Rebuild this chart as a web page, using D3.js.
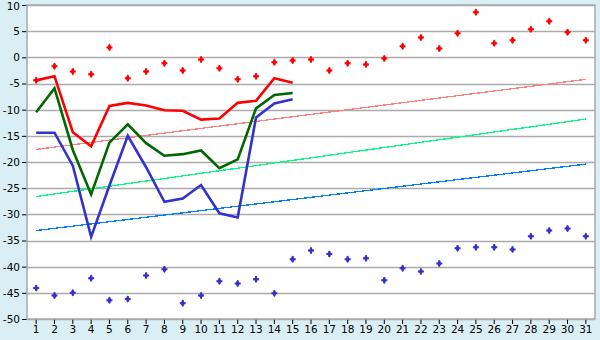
<!DOCTYPE html>
<html>
<head>
<meta charset="utf-8">
<script src="https://cdn.jsdelivr.net/npm/d3@7"></script>
<style>
    body { margin: 0; background: #daeef5; }
    svg { display: block; }
    .tick text { font-family: "DejaVu Sans", sans-serif; font-size: 10.5px; fill: #000; }
</style>
</head>
<body>
<svg id="chart" width="600" height="340"></svg>
<script>
// categories (days)
const days = d3.range(1, 32);
const yTicks = [-50, -45, -40, -35, -30, -25, -20, -15, -10, -5, 0, 5, 10];

// scatter series
const redDots = [-4.4, -1.7, -2.7, -3.25, 1.9, -4.0, -2.7, -1.15, -2.5, -0.4,
    -2.1, -4.2, -3.6, -0.95, -0.6, -0.4, -2.5, -1.15, -1.35, -0.2,
    2.1, 3.8, 1.7, 4.6, 8.6, 2.7, 3.25, 5.35, 6.9, 4.8, 3.25];
const blueDots = [-44.1, -45.5, -45.0, -42.2, -46.4, -46.2, -41.7, -40.5, -47.0, -45.5,
    -42.8, -43.2, -42.4, -45.1, -38.6, -36.9, -37.6, -38.6, -38.4, -42.6,
    -40.3, -40.9, -39.4, -36.5, -36.3, -36.3, -36.7, -34.2, -33.1, -32.7, -34.2];

// line series (days 1..15)
const redLine = [-4.4, -3.6, -14.3, -17.0, -9.3, -8.7, -9.2, -10.1, -10.2, -11.9, -11.7, -8.7, -8.3, -4.0, -4.85];
const greenLine = [-10.5, -5.9, -17.7, -26.2, -16.3, -12.8, -16.4, -18.8, -18.5, -17.8, -21.2, -19.5, -9.75, -7.2, -6.8];
const blueLine = [-14.4, -14.4, -20.7, -34.3, -24.5, -15.0, -21.0, -27.6, -27.0, -24.4, -29.8, -30.6, -11.5, -8.8, -8.0];

// trend lines: value at day 1 and day 31
const trendDays = [1, 31];
const redTrend = [-17.6, -4.2];
const greenTrend = [-26.6, -11.8];
const blueTrend = [-33.1, -20.4];

const svg = d3.select('#chart');
const svgWidth = +svg.attr('width');
const svgHeight = +svg.attr('height');
const margin = {top: 5, right: 5, bottom: 21, left: 27};
const innerWidth = svgWidth - margin.left - margin.right;
const innerHeight = svgHeight - margin.top - margin.bottom;

const xScale = d3.scaleBand()
    .domain(days)
    .range([0, innerWidth])
    .padding(0);
const xPos = d => xScale(d) + xScale.bandwidth() / 2;

const yScale = d3.scaleLinear()
    .domain([-50, 10])
    .range([innerHeight, 0]);

const g = svg.append('g')
    .attr('transform', `translate(${margin.left}, ${margin.top})`);

// plot background
g.append('rect')
    .attr('width', innerWidth)
    .attr('height', innerHeight)
    .attr('fill', '#fff');

// grid lines
g.append('g')
    .selectAll('line')
    .data(yTicks)
    .enter()
    .append('line')
    .attr('x1', 0)
    .attr('x2', innerWidth)
    .attr('y1', d => Math.round(yScale(d)) + 0.5)
    .attr('y2', d => Math.round(yScale(d)) + 0.5)
    .attr('stroke', '#aaa')
    .attr('stroke-width', 1.5);

// axes
const yAxis = g.append('g')
    .call(d3.axisLeft(yScale).tickValues(yTicks).tickFormat(d => String(d)).tickSize(5).tickPadding(2));
const xAxis = g.append('g')
    .attr('transform', `translate(0, ${innerHeight})`)
    .call(d3.axisBottom(xScale).tickSize(5).tickPadding(2));

[yAxis, xAxis].forEach(ax => {
    ax.select('.domain').remove();
    ax.selectAll('.tick line').attr('stroke', '#000');
});
// nudge the top label a touch down, as in the original
yAxis.selectAll('.tick text').filter(d => d === 10).attr('dy', '0.42em');

// plot border
g.append('rect')
    .attr('width', innerWidth)
    .attr('height', innerHeight)
    .attr('fill', 'none')
    .attr('stroke', '#aaa')
    .attr('stroke-width', 1.5);

// trend lines
const trends = [
    {values: redTrend, color: '#ff8080'},
    {values: greenTrend, color: '#00ff80'},
    {values: blueTrend, color: '#0080ff'}
];
trends.forEach(t => {
    g.append('path')
        .datum(trendDays.map((d, i) => [d, t.values[i]]))
        .attr('d', d3.line().x(d => xPos(d[0])).y(d => yScale(d[1])))
        .attr('fill', 'none')
        .attr('stroke', t.color)
        .attr('stroke-width', 1.3)
        .attr('shape-rendering', 'crispEdges');
});

// data lines
const lines = [
    {values: redLine, color: '#ff0000'},
    {values: greenLine, color: '#006600'},
    {values: blueLine, color: '#3333cc'}
];
lines.forEach(l => {
    g.append('path')
        .datum(l.values)
        .attr('d', d3.line().x((d, i) => xPos(days[i])).y(d => yScale(d)))
        .attr('fill', 'none')
        .attr('stroke', l.color)
        .attr('stroke-width', 2.6);
});

// scatter markers: a small cross with a fat diamond centre
const cross = d3.symbol().type(d3.symbolCross).size(20);
const diamond = d3.symbol().type(d3.symbolDiamond).size(16);
[{values: redDots, color: '#ff0000'}, {values: blueDots, color: '#3333cc'}].forEach(s => {
    const mg = g.append('g')
        .selectAll('g')
        .data(s.values)
        .enter()
        .append('g')
        .attr('transform', (d, i) => `translate(${xPos(days[i])}, ${yScale(d)})`)
        .attr('fill', s.color);
    mg.append('path').attr('d', cross);
    mg.append('path').attr('d', diamond);
});
</script>
</body>
</html>
